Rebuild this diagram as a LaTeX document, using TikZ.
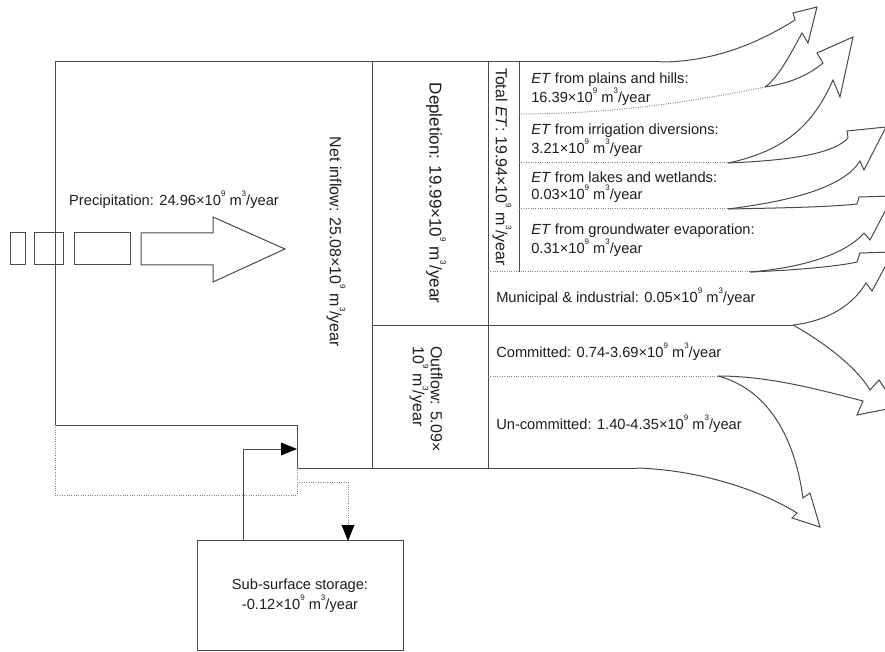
\documentclass[tikz,border=0pt]{standalone}
\usepackage{fontspec}
\setmainfont{Liberation Sans}
\usetikzlibrary{arrows.meta}
\definecolor{lnc}{HTML}{4A4A4A}
\definecolor{dtc}{HTML}{888888}
\definecolor{txc}{HTML}{1E1E1E}
\newcommand{\sq}[1]{\raisebox{0.62em}{\fontsize{6}{6}\selectfont #1}}
\begin{document}
\begin{tikzpicture}[x=0.75pt,y=-0.75pt,
  lns/.style={draw=lnc,line width=0.75pt,line join=miter},
  dts/.style={draw=dtc,line width=0.75pt,densely dotted},
  lab/.style={text=txc,font=\fontsize{11}{12.6}\selectfont,inner sep=0pt},
  vlab/.style={text=txc,font=\fontsize{12}{13.5}\selectfont,inner sep=0pt,rotate=-90},
  hd/.style={-{Triangle[length=12pt,width=9.5pt,color=black,fill=black]}}
]
\useasboundingbox (0,0) rectangle (885,652);
\fill[white] (0,0) rectangle (885,652);
\clip (0,0) rectangle (885,652);

% join points
\coordinate (J0) at (660,62);
\coordinate (J1) at (765,87);
\coordinate (J2) at (728,163);
\coordinate (J3) at (728,209);
\coordinate (J4) at (750,272);
\coordinate (J5) at (793,325);
\coordinate (J6) at (718,376);
\coordinate (J7) at (637,468);

% main outline
\draw[lns] (J0) -- (55,62) -- (55,425) -- (297,425) -- (297,468) -- (J7);
\draw[lns] (372,62) -- (372,468);
\draw[lns] (488,62) -- (488,468);
\draw[lns] (372,325) -- (J5);
\draw[lns] (519,62) -- (519,272);

% dotted dividers
\draw[dts] (519,114) .. controls (620,114) and (700,100) .. (J1);
\draw[dts] (519,163) -- (J2);
\draw[dts] (519,209) -- (J3);
\draw[dts] (488,272) -- (J4);
\draw[dts] (488,376) -- (J6);

% outgoing arrows
\draw[lns] (J0) .. controls (715,62) and (760,42) .. (795,20) -- (793,13) -- (817,7) -- (808,43) -- (802,33)
  .. controls (790,55) and (778,78) .. (J1);
\draw[lns] (J1) .. controls (785,84) and (805,78) .. (823,63) -- (817,53) -- (853,37) -- (840,97) -- (833,80)
  .. controls (815,120) and (790,150) .. (J2);
\draw[lns] (J2) .. controls (800,160) and (835,152) .. (848,138) -- (847,131) -- (886,127) -- (864,170) -- (860,161)
  .. controls (845,185) and (800,200) .. (J3);
\draw[lns] (J3) .. controls (780,208) and (830,207) .. (857,204) -- (859,197) -- (893,196) -- (870,240) -- (864,233)
  .. controls (845,255) and (800,268) .. (J4);
\draw[lns] (J4) .. controls (800,270) and (840,266) .. (857,262) -- (860,253) -- (893,252) -- (872,291) -- (866,283)
  .. controls (850,310) and (820,322) .. (J5);
\draw[lns] (J5) .. controls (820,340) and (855,365) .. (870,390) -- (879,380) -- (897,407) -- (857,415) -- (863,401)
  .. controls (820,390) and (770,376) .. (J6);
\draw[lns] (J6) .. controls (770,390) and (795,440) .. (803,498) -- (810,493) -- (820,527) -- (792,518) -- (797,513)
  .. controls (760,490) and (700,470) .. (J7);

% precipitation arrow
\draw[lns] (141,233) -- (213,233) -- (213,217) -- (285,249) -- (213,282) -- (213,265) -- (141,265) -- cycle;
\draw[lns] (74,233) rectangle (130,265);
\draw[lns] (34,233) rectangle (63,265);
\draw[lns] (10,233) rectangle (25,265);

% sub-surface storage
\node[lns,draw,minimum width=154.5pt,minimum height=82pt,inner sep=0pt,align=center,
  text=txc,font=\fontsize{11}{15}\selectfont] (sub) at (300,595.5)
  {Sub-surface storage:\\-0.12×10\sq{9} m\sq{3}/year};
\coordinate (s1) at (243,541);
\coordinate (s2) at (348,541);
\draw[dts] (55,425) -- (55,495) -- (297,495) -- (297,468);
\draw[dts,hd] (297,482) -- (348,482) -- (s2);
\draw[lns,hd] (s1) -- (243,449) -- (297,449);

% labels
\node[lab] (prec) at (174,200) {Precipitation: 24.96×10\sq{9} m\sq{3}/year};
\node[vlab] (net) at (336,242) {Net inflow: 25.08×10\sq{9} m\sq{3}/year};
\node[vlab,font=\fontsize{12.8}{14}\selectfont] (dep) at (436,193) {Depletion: 19.99×10\sq{9} m\sq{3}/year};
\node[vlab] (tet) at (502,167) {Total \textit{ET}: 19.94×10\sq{9} m\sq{3}/year};
\node[vlab,align=left] (out) at (426,399) {Outflow: 5.09×\\10\sq{9} m\sq{3}/year};

\node[lab,anchor=west,align=left] (et1) at (531,89) {\textit{ET} from plains and hills:\\16.39×10\sq{9} m\sq{3}/year};
\node[lab,anchor=west,align=left] (et2) at (531,140) {\textit{ET} from irrigation diversions:\\3.21×10\sq{9} m\sq{3}/year};
\node[lab,anchor=west,align=left] (et3) at (531,187) {\textit{ET} from lakes and wetlands:\\0.03×10\sq{9} m\sq{3}/year};
\node[lab,anchor=west,align=left] (et4) at (531,240) {\textit{ET} from groundwater evaporation:\\0.31×10\sq{9} m\sq{3}/year};
\node[lab,anchor=west] (mun) at (496,297) {Municipal \& industrial: 0.05×10\sq{9} m\sq{3}/year};
\node[lab,anchor=west] (com) at (496,352) {Committed: 0.74-3.69×10\sq{9} m\sq{3}/year};
\node[lab,anchor=west] (unc) at (496,424) {Un-committed: 1.40-4.35×10\sq{9} m\sq{3}/year};
\end{tikzpicture}
\end{document}
